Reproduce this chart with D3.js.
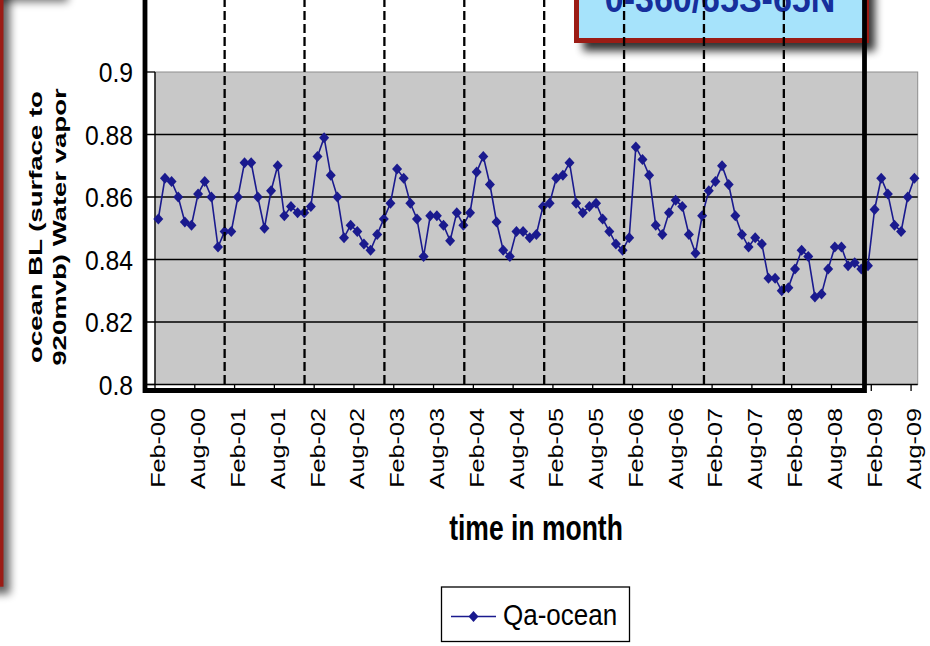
<!DOCTYPE html>
<html>
<head>
<meta charset="utf-8">
<script src="https://cdn.jsdelivr.net/npm/d3@7"></script>
<style>
  html, body { margin: 0; padding: 0; background: #fff; }
  svg { display: block; }
  text { font-family: "Liberation Sans", Arial, sans-serif; }
</style>
</head>
<body>
<svg id="chart" width="930" height="646"></svg>
<script>
// Monthly ocean boundary-layer water vapour, Feb 2000 – Aug 2009
const firstMonth = new Date(2000, 1, 1);
const lastMonth = new Date(2009, 7, 1);
const seriesName = "Qa-ocean";
const qaOcean = [
  0.853, 0.866, 0.865, 0.860, 0.852, 0.851, 0.861, 0.865, 0.860, 0.844, 0.849, 0.849,
  0.860, 0.871, 0.871, 0.860, 0.850, 0.862, 0.870, 0.854, 0.857, 0.855, 0.855, 0.857,
  0.873, 0.879, 0.867, 0.860, 0.847, 0.851, 0.849, 0.845, 0.843, 0.848, 0.853, 0.858,
  0.869, 0.866, 0.858, 0.853, 0.841, 0.854, 0.854, 0.851, 0.846, 0.855, 0.851, 0.855,
  0.868, 0.873, 0.864, 0.852, 0.843, 0.841, 0.849, 0.849, 0.847, 0.848, 0.857, 0.858,
  0.866, 0.867, 0.871, 0.858, 0.855, 0.857, 0.858, 0.853, 0.849, 0.845, 0.843, 0.847,
  0.876, 0.872, 0.867, 0.851, 0.848, 0.855, 0.859, 0.857, 0.848, 0.842, 0.854, 0.862,
  0.865, 0.870, 0.864, 0.854, 0.848, 0.844, 0.847, 0.845, 0.834, 0.834, 0.830, 0.831,
  0.837, 0.843, 0.841, 0.828, 0.829, 0.837, 0.844, 0.844, 0.838, 0.839, 0.837, 0.838,
  0.856, 0.866, 0.861, 0.851, 0.849, 0.860, 0.866
];
const xTickLabels = [
  "Feb-00", "Aug-00", "Feb-01", "Aug-01", "Feb-02", "Aug-02", "Feb-03", "Aug-03",
  "Feb-04", "Aug-04", "Feb-05", "Aug-05", "Feb-06", "Aug-06", "Feb-07", "Aug-07",
  "Feb-08", "Aug-08", "Feb-09", "Aug-09"
];
const yTicks = [0.8, 0.82, 0.84, 0.86, 0.88, 0.9];
const yearMarks = ["Dec-00", "Dec-01", "Dec-02", "Dec-03", "Dec-04", "Dec-05", "Dec-06", "Dec-07"];
const yTitleLines = ["ocean BL (surface to", "920mvb) Water vapor"];
const xTitle = "time in month";
const regionLabel = "0-360/65S-65N";

const fmt = d3.timeFormat("%b-%y");
const months = d3.timeMonth.range(firstMonth, d3.timeMonth.offset(lastMonth, 1)).map(fmt);
const data = months.map((m, i) => ({ month: m, value: qaOcean[i] }));

const svg = d3.select("#chart");
const defs = svg.append("defs");
defs.append("filter").attr("id", "soft").attr("x", "-50%").attr("y", "-50%").attr("width", "200%").attr("height", "200%")
  .append("feGaussianBlur").attr("stdDeviation", 4);

const plot = { left: 155, right: 917.7, top: 72, bottom: 384.5 };
const x = d3.scaleBand().domain(months).range([plot.left, plot.right]).padding(0);
const cx = m => x(m) + x.bandwidth() / 2;
const y = d3.scaleLinear().domain([0.8, 0.9]).range([plot.bottom, plot.top]);

const navy = "#1a1a8e";

// --- slide decoration on the left edge
svg.append("rect").attr("x", -60).attr("y", -60).attr("width", 128).attr("height", 62)
  .attr("fill", "#000").attr("opacity", 0.55).attr("filter", "url(#soft)");
svg.append("rect").attr("x", -20).attr("y", -20).attr("width", 30).attr("height", 614)
  .attr("fill", "#000").attr("opacity", 0.6).attr("filter", "url(#soft)");
svg.append("rect").attr("x", -20).attr("y", -20).attr("width", 23.5).attr("height", 606.7)
  .attr("fill", "#9b1c15");

// --- plot area
svg.append("rect").attr("x", plot.left).attr("y", plot.top)
  .attr("width", plot.right - plot.left).attr("height", plot.bottom - plot.top)
  .attr("fill", "#c8c8c8").attr("stroke", "#8e8e8e").attr("stroke-width", 1);

// horizontal gridlines with their outside ticks
svg.append("g").selectAll("line").data(yTicks).join("line")
  .attr("x1", plot.left - 8)
  .attr("x2", d => (d === 0.8 || d === 0.9) ? plot.left : plot.right)
  .attr("y1", d => y(d)).attr("y2", d => y(d))
  .attr("stroke", "#000").attr("stroke-width", 1.3);

// axis lines
svg.append("line").attr("x1", plot.left).attr("x2", plot.left)
  .attr("y1", plot.top).attr("y2", plot.bottom).attr("stroke", "#000").attr("stroke-width", 1.3);
svg.append("line").attr("x1", plot.left - 8).attr("x2", plot.right)
  .attr("y1", plot.bottom).attr("y2", plot.bottom).attr("stroke", "#000").attr("stroke-width", 1.3);

// category ticks at each labelled month
const labelled = months.filter(m => xTickLabels.includes(m));
svg.append("g").selectAll("line").data(labelled).join("line")
  .attr("x1", d => x(d)).attr("x2", d => x(d))
  .attr("y1", plot.bottom).attr("y2", plot.bottom + 6.5)
  .attr("stroke", "#000").attr("stroke-width", 1.3);

// y tick labels
svg.append("g").selectAll("text").data(yTicks).join("text")
  .attr("transform", d => `translate(133,${y(d)}) scale(0.95,1.08)`)
  .attr("dy", "0.36em")
  .attr("text-anchor", "end").attr("font-size", 26).attr("fill", "#000")
  .text(d => d3.format("")(d));

// x tick labels (rotated, reading bottom to top)
svg.append("g").selectAll("text").data(labelled).join("text")
  .attr("transform", d => `translate(${cx(d) - 0.5},408) scale(1,1.2) rotate(-90)`)
  .attr("dy", "0.36em").attr("text-anchor", "end")
  .attr("font-size", 21).attr("fill", "#000")
  .text(d => d);

// series line and diamond markers
const line = d3.line().x(d => cx(d.month)).y(d => y(d.value));
svg.append("path").datum(data).attr("d", line)
  .attr("fill", "none").attr("stroke", navy).attr("stroke-width", 1.6);
const diamond = { draw(ctx, size) { const r = Math.sqrt(size) / 2; ctx.moveTo(0, -r * 1.1); ctx.lineTo(r, 0); ctx.lineTo(0, r * 1.1); ctx.lineTo(-r, 0); ctx.closePath(); } };
svg.append("g").selectAll("path").data(data).join("path")
  .attr("transform", d => `translate(${cx(d.month)},${y(d.value)})`)
  .attr("d", d3.symbol(diamond, 100)).attr("fill", navy);

// region label box
svg.append("rect").attr("x", 583).attr("y", -40).attr("width", 292).attr("height", 91)
  .attr("fill", "#000").attr("opacity", 0.8).attr("filter", "url(#soft)");
svg.append("rect").attr("x", 576.5).attr("y", -30).attr("width", 290).attr("height", 70.5)
  .attr("fill", "#a6e3fb").attr("stroke", "#9b1c15").attr("stroke-width", 5);
svg.append("text").attr("transform", "translate(720,12) scale(1,1.12)").attr("text-anchor", "middle")
  .attr("font-family", "'Liberation Serif', 'Times New Roman', serif").attr("font-weight", "bold")
  .attr("font-size", 34).attr("fill", "#162f9c").text(regionLabel);

// yearly separators
svg.append("g").selectAll("line").data(yearMarks).join("line")
  .attr("x1", (d, i) => cx(d) + i * 0.3).attr("x2", (d, i) => cx(d) + i * 0.3)
  .attr("y1", -2).attr("y2", 390)
  .attr("stroke", "#000").attr("stroke-width", 2.3).attr("stroke-dasharray", "9,4");

// black frame
svg.append("path").attr("d", "M145,-10V390.5H864.5V-10")
  .attr("fill", "none").attr("stroke", "#000").attr("stroke-width", 4.8);

// axis titles
const yt = svg.append("g");
yTitleLines.forEach((t, i) => {
  yt.append("text")
    .attr("transform", `translate(${42 + i * 24},227) scale(1,1.53) rotate(-90)`)
    .attr("text-anchor", "middle").attr("font-weight", "bold").attr("font-size", 18)
    .attr("fill", "#000").text(t);
});
svg.append("text").attr("transform", "translate(536,540) scale(1,1.3)")
  .attr("text-anchor", "middle").attr("font-weight", "bold").attr("font-size", 26.5)
  .attr("fill", "#000").text(xTitle);

// legend
const lg = svg.append("g");
lg.append("rect").attr("x", 441.5).attr("y", 587).attr("width", 188).attr("height", 54.5)
  .attr("fill", "#fff").attr("stroke", "#000").attr("stroke-width", 1.3);
lg.append("line").attr("x1", 451).attr("x2", 496).attr("y1", 616.5).attr("y2", 616.5)
  .attr("stroke", navy).attr("stroke-width", 1.6);
lg.append("path").attr("transform", "translate(473.5,616.5)").attr("d", d3.symbol(diamond, 100)).attr("fill", navy);
lg.append("text").attr("transform", "translate(503,625) scale(1,1.12)")
  .attr("font-size", 26).attr("fill", "#000").text(seriesName);
</script>
</body>
</html>
